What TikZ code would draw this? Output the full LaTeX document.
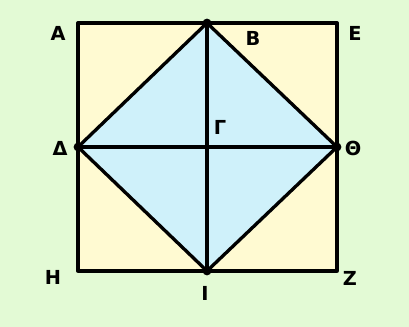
\documentclass[tikz,border=0pt]{standalone}
\usepackage{fontspec}
\setmainfont{DejaVu Sans}
\usepackage{tikz}
\usetikzlibrary{positioning,calc}
\definecolor{PaleGreen}{HTML}{E3FAD5}
\definecolor{PaleYellow}{HTML}{FFFAD2}
\definecolor{PaleCyan}{HTML}{CFF1FA}
\tikzset{
  edge/.style={line width=1.9pt,line cap=round,line join=round},
  letter/.style={font=\fontsize{11}{13}\selectfont\bfseries,inner sep=0pt},
  vertexdot/.style={circle,fill=black,inner sep=0pt,minimum size=5pt}
}
\begin{document}
\begin{tikzpicture}[x=0.02cm,y=-0.02cm]
    \fill[PaleGreen] (0,0) rectangle (409,327);
    \useasboundingbox (0,0) rectangle (409,327);
    % corners of the square and points on its sides
    \coordinate (A) at (78,23);
    \coordinate (E) at (337,23);
    \coordinate (Z) at (337,271);
    \coordinate (H) at (78,271);
    \coordinate (B) at (207,23);
    \coordinate (D) at (78,147);
    \coordinate (T) at (337,147);
    \coordinate (I) at (207,271);
    \coordinate (G) at (207,147);
    \fill[PaleYellow] (A) rectangle (Z);
    \fill[PaleCyan] (B) -- (T) -- (I) -- (D) -- cycle;
    \draw[edge] (A) rectangle (Z);
    \draw[edge] (B) -- (T) -- (I) -- (D) -- cycle;
    \draw[edge] (B) -- (I);
    \draw[edge] (D) -- (T);
    \foreach \p in {B,D,T,I}
      \node[vertexdot] at (\p) {};
    \node[vertexdot,minimum size=3pt] at (G) {};
    % letters
    \node[letter] (lblA) at (58,33) {Α};
    \node[letter] (lblB) at (253,38) {Β};
    \node[letter] (lblE) at (355,33) {Ε};
    \node[letter] (lblD) at (60,148) {Δ};
    \node[letter] (lblG) at (220,127) {Γ};
    \node[letter] (lblT) at (353,148) {Θ};
    \node[letter] (lblH) at (53,277) {Η};
    \node[letter] (lblZ) at (350,278) {Ζ};
    \node[letter] (lblI) at (205,293) {Ι};
\end{tikzpicture}
\end{document}
